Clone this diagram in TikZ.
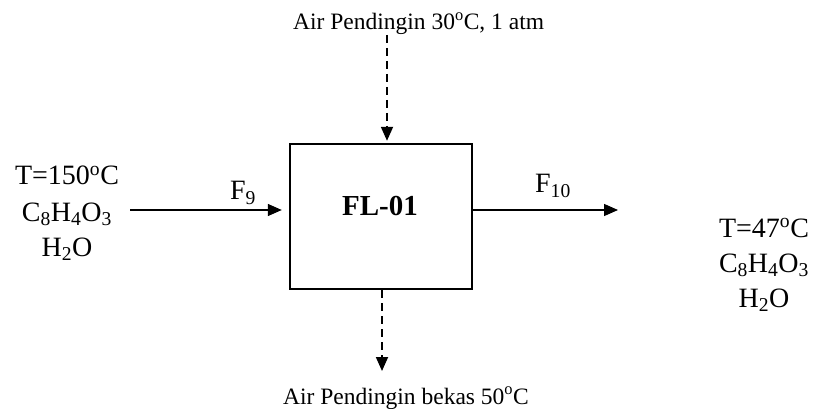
\documentclass[tikz,border=0pt]{standalone}
\usepackage{fontspec}
\setmainfont{Liberation Serif}
\usetikzlibrary{arrows.meta}
\tikzset{
  big/.style={font=\fontsize{28}{35}\selectfont, inner sep=0pt},
  small/.style={font=\fontsize{23.5}{28}\selectfont, inner sep=0pt},
  unit/.style={draw, line width=2.4pt, minimum width=182pt, minimum height=145pt, inner sep=0pt},
  flow/.style={line width=1.4pt, -{Triangle[length=14pt,width=12pt]}},
  cool/.style={line width=1.8pt, dash pattern=on 8pt off 5pt, -{Triangle[length=14pt,width=12pt]}},
}
\begin{document}
\begin{tikzpicture}[x=1pt,y=-1pt]
\useasboundingbox (0,0) rectangle (814,409);
\node[unit] (box) at (381,216.5) {};
\node[big, font=\fontsize{29}{35}\selectfont\bfseries, anchor=base] (fl) at (380,215) {FL-01};
% inlet stream text
\node[big, anchor=base] (inT) at (67,185) {T=150\textsuperscript{o}C};
\node[big, anchor=base] (inC) at (67,221) {C\textsubscript{8}H\textsubscript{4}O\textsubscript{3}};
\node[big, anchor=base] (inH) at (67,256) {H\textsubscript{2}O};
% outlet stream text
\node[big, anchor=base] (outT) at (764,237) {T=47\textsuperscript{o}C};
\node[big, anchor=base] (outC) at (764,272) {C\textsubscript{8}H\textsubscript{4}O\textsubscript{3}};
\node[big, anchor=base] (outH) at (764,307) {H\textsubscript{2}O};
% stream labels
\node[big, anchor=base] (f9) at (243,200) {F\textsubscript{9}};
\node[big, anchor=base] (f10) at (553,193) {F\textsubscript{10}};
% cooling water
\node[small, anchor=base west] (cin) at (293,30) {Air Pendingin 30\textsuperscript{o}C, 1 atm};
\node[small, anchor=base west] (cout) at (283,404) {Air Pendingin bekas 50\textsuperscript{o}C};
\coordinate (ain) at (130,210);
\coordinate (aout) at (618,210);
\coordinate (ctop) at (387,35);
\coordinate (cbot) at (382,371);
\draw[flow, shorten >=7pt] (ain) -- (ain -| box.west);
\draw[flow] (box.east |- aout) -- (aout);
\draw[cool, shorten >=2pt] (ctop) -- (ctop |- box.north);
\draw[cool] (cbot |- box.south) -- (cbot);
\end{tikzpicture}
\end{document}
